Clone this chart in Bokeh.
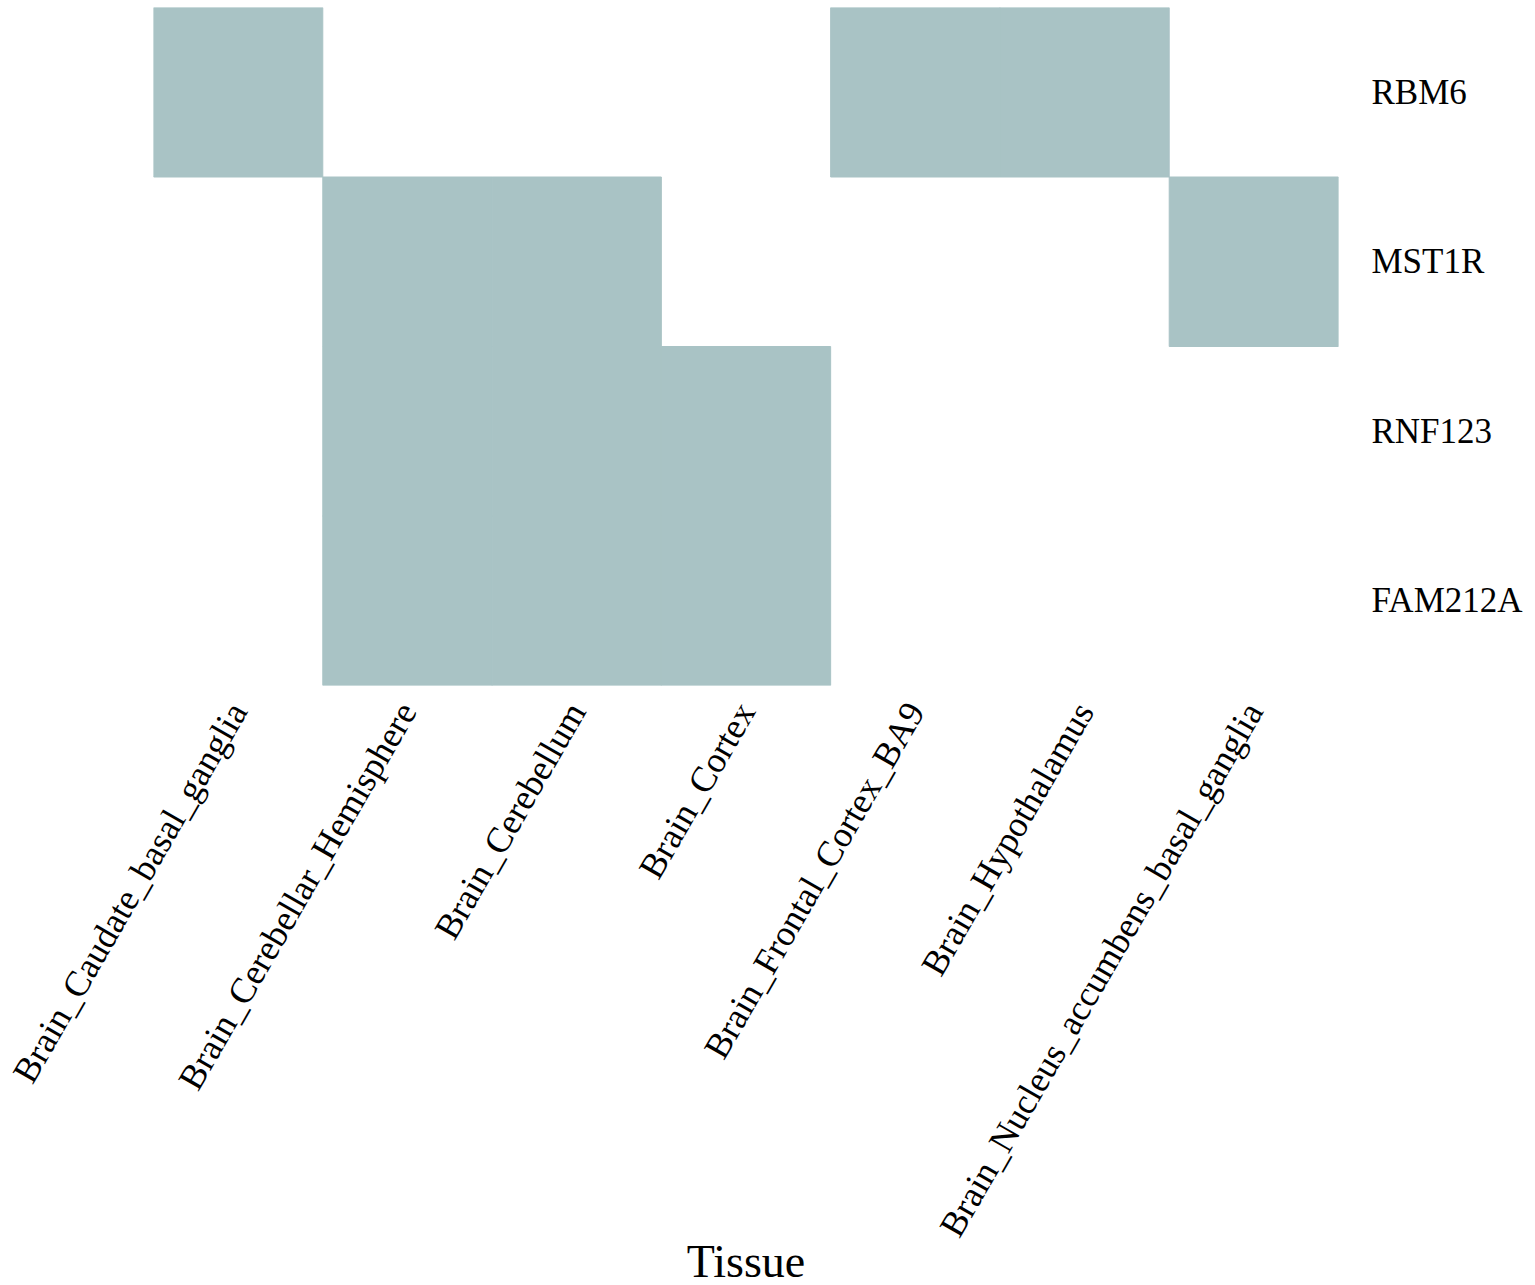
import math
from bokeh.plotting import figure
from bokeh.models import ColumnDataSource, FactorRange
from bokeh.embed import file_html
from bokeh.resources import INLINE

tissues = [
    "Brain_Caudate_basal_ganglia",
    "Brain_Cerebellar_Hemisphere",
    "Brain_Cerebellum",
    "Brain_Cortex",
    "Brain_Frontal_Cortex_BA9",
    "Brain_Hypothalamus",
    "Brain_Nucleus_accumbens_basal_ganglia",
]
genes = ["RBM6", "MST1R", "RNF123", "FAM212A"]

# presence (1) / absence (0) of each gene in each tissue, order follows `tissues`
RBM6 = [1, 0, 0, 0, 1, 1, 0]
MST1R = [0, 1, 1, 0, 0, 0, 1]
RNF123 = [0, 1, 1, 1, 0, 0, 0]
FAM212A = [0, 1, 1, 1, 0, 0, 0]
presence = {"RBM6": RBM6, "MST1R": MST1R, "RNF123": RNF123, "FAM212A": FAM212A}

x_title = "Tissue"

xs, ys = [], []
for g in genes:
    for t, v in zip(tissues, presence[g]):
        if v:
            xs.append(t)
            ys.append(g)
source = ColumnDataSource(dict(x=xs, y=ys))

FONT = "Liberation Serif"
p = figure(
    x_range=FactorRange(*tissues, range_padding=0),
    y_range=FactorRange(*reversed(genes), range_padding=0),
    frame_width=1185, frame_height=678,
    min_border_left=153, min_border_top=7, min_border_right=5,
    min_border_bottom=0,
    y_axis_location="right",
    output_backend="svg", toolbar_location=None,
)
p.rect(x="x", y="y", width=1, height=1, source=source,
       fill_color="#A9C3C5", line_color="#A9C3C5", line_width=1)

p.xgrid.visible = False
p.ygrid.visible = False
p.outline_line_color = None
for ax in (p.xaxis, p.yaxis):
    ax.axis_line_color = None
    ax.major_tick_line_color = None
    ax.minor_tick_line_color = None
    ax.major_label_text_font = FONT
    ax.major_label_text_font_size = "35px"
    ax.major_label_text_color = "black"
p.xaxis.major_label_text_font_size = "36px"
p.yaxis.major_label_standoff = 27
p.xaxis.major_label_standoff = 14
p.xaxis.major_label_orientation = math.pi / 3
p.xaxis.axis_label = x_title
p.xaxis.axis_label_text_font = FONT
p.xaxis.axis_label_text_font_size = "46px"
p.xaxis.axis_label_text_font_style = "normal"
p.xaxis.axis_label_text_color = "black"
p.xaxis.axis_label_standoff = -21

open("out.html", "w").write(file_html(p, INLINE))
